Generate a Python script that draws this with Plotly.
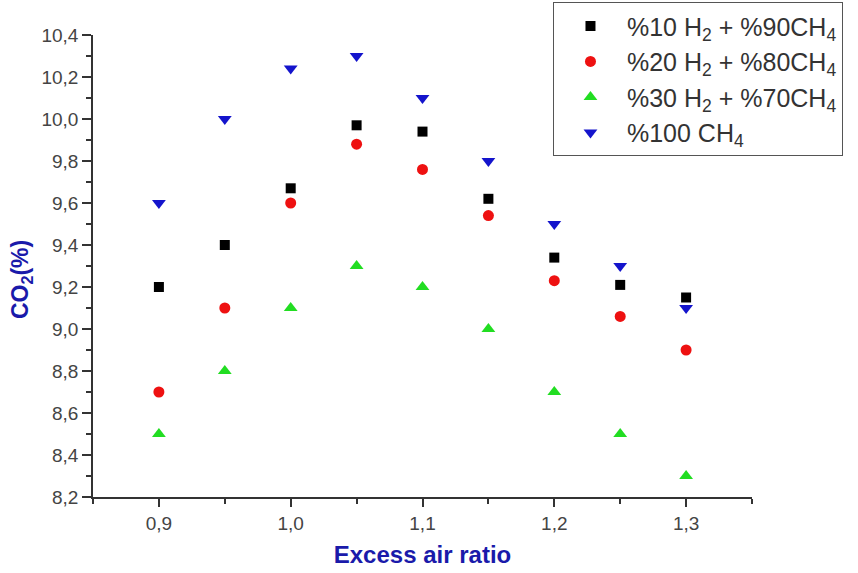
import plotly.graph_objects as go

x_vals = [0.9, 0.95, 1.0, 1.05, 1.1, 1.15, 1.2, 1.25, 1.3]
h2_10 = [9.20, 9.40, 9.67, 9.97, 9.94, 9.62, 9.34, 9.21, 9.15]
h2_20 = [8.70, 9.10, 9.60, 9.88, 9.76, 9.54, 9.23, 9.06, 8.90]
h2_30 = [8.50, 8.80, 9.10, 9.30, 9.20, 9.00, 8.70, 8.50, 8.30]
ch4_100 = [9.60, 10.00, 10.24, 10.30, 10.10, 9.80, 9.50, 9.30, 9.10]

names = ["%10 H<sub>2</sub> + %90CH<sub>4</sub>",
         "%20 H<sub>2</sub> + %80CH<sub>4</sub>",
         "%30 H<sub>2</sub> + %70CH<sub>4</sub>",
         "%100 CH<sub>4</sub>"]
series = [h2_10, h2_20, h2_30, ch4_100]
colors = ["#000000", "#ee1111", "#22dd22", "#1414cc"]
symbols = ["square", "circle", "triangle-up", "triangle-down"]
sizes = [10, 11, 12, 12]

fig = go.Figure()
for n, s, c, sym, sz in zip(names, series, colors, symbols, sizes):
    fig.add_trace(go.Scatter(x=x_vals, y=s, mode="markers", name=n,
                             marker=dict(color=c, symbol=sym, size=sz, line=dict(width=0))))

fig.add_annotation(text="<b>CO<sub>2</sub>(%)</b>", textangle=-90,
                   xref="paper", yref="paper", x=(21 - 93) / 659, y=(497 - 280) / 462,
                   xanchor="center", yanchor="middle", showarrow=False,
                   font=dict(size=23, color="#1a1aaa"))

fig.update_layout(
    width=858, height=573,
    margin=dict(l=93, r=106, t=35, b=76, autoexpand=False),
    paper_bgcolor="white", plot_bgcolor="white",
    separators=",.",
    font=dict(family="Liberation Sans, Arial, sans-serif", color="#444444"),
    showlegend=True,
    legend=dict(x=0.698, y=1.071, xanchor="left", yanchor="top",
                bordercolor="#555555", borderwidth=1, bgcolor="white",
                font=dict(size=25, color="#333333"), itemwidth=63),
    xaxis=dict(range=[0.85, 1.35], tickvals=[0.9, 1.0, 1.1, 1.2, 1.3], tickformat=".1f",
               showline=True, linecolor="#333333", linewidth=1.5,
               ticks="outside", ticklen=8, tickcolor="#333333", tickwidth=1.5,
               minor=dict(tickvals=[0.85, 0.95, 1.05, 1.15, 1.25, 1.35], ticks="outside",
                          ticklen=5, tickcolor="#333333", tickwidth=1.5),
               showgrid=False, zeroline=False,
               tickfont=dict(size=19, color="#444444"),
               title=dict(text="<b>Excess air ratio</b>", font=dict(size=24, color="#1a1aaa"), standoff=14)),
    yaxis=dict(range=[8.2, 10.4], dtick=0.2, tick0=8.2, tickformat=".1f",
               showline=True, linecolor="#333333", linewidth=1.5,
               ticks="outside", ticklen=9, tickcolor="#333333", tickwidth=1.5,
               minor=dict(dtick=0.1, tick0=8.2, ticks="outside", ticklen=5,
                          tickcolor="#333333", tickwidth=1.5),
               showgrid=False, zeroline=False,
               tickfont=dict(size=19, color="#444444")),
)

fig.write_html("out.html")
